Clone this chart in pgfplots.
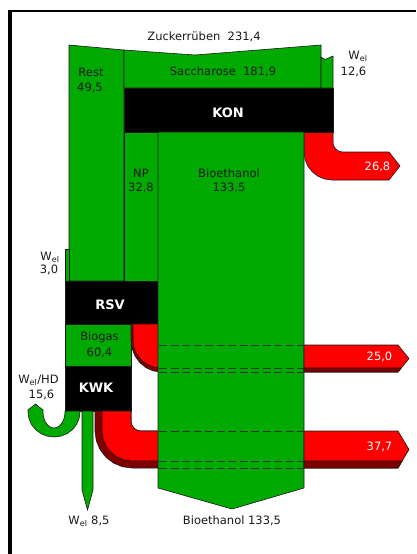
\documentclass[border=0pt]{standalone}
\usepackage{fontspec}
\setmainfont{DejaVu Sans}
\usepackage{pgfplots}
\pgfplotsset{compat=1.18}

\definecolor{sgreen}{RGB}{0,170,0}
\definecolor{sred}{RGB}{255,0,0}
\definecolor{sdark}{RGB}{128,0,0}
\definecolor{edge}{RGB}{25,25,25}

\tikzset{
  flow/.style={draw=edge, line width=0.6pt, line join=miter},
  lab/.style={font=\fontsize{11.5}{13}\selectfont, text=black!90, inner sep=0pt},
  wlab/.style={font=\fontsize{11.5}{13}\selectfont, text=white, inner sep=0pt},
  blab/.style={font=\fontsize{13}{15}\selectfont\bfseries, text=white, inner sep=0pt},
  hid/.style={draw=black!80, line width=0.7pt, dash pattern=on 8pt off 3.5pt},
}

\begin{document}
\begin{tikzpicture}
\begin{axis}[
    scale only axis,
    width=416pt, height=554pt,
    xmin=0, xmax=416, ymin=0, ymax=554,
    y dir=reverse,
    hide axis,
]
% background (fixes the picture size)
\addplot[fill=white, draw=none] coordinates {(0,0) (416,0) (416,554) (0,554)} --cycle;

% input Zuckerrueben: Rest, Saccharose, W_el
\addplot[flow, fill=sgreen] coordinates {(69,45) (124,50) (124,281) (69,281)} --cycle;
\addplot[flow, fill=sgreen] coordinates {(124,50) (195,55) (321,45) (321,88) (124,88)} --cycle;
\addplot[flow, fill=sgreen] coordinates {(321,57) (325,59.5) (333,56) (333,88) (321,88)} --cycle;
\addplot[flow, fill=sgreen] coordinates {(65,249) (69,249) (69,281) (65,281)} --cycle;

% loss 26,8 from KON
\addplot[flow, fill=sred] coordinates {
  (304,132) (333,132) (333,142) (333.34,144.59) (334.34,147) (335.93,149.07)
  (338,150.66) (340.41,151.66) (343,152) (389,152) (400,166) (389,180)
  (332,180) (324.75,179.05) (318,176.25) (312.2,171.8) (307.75,166)
  (304.95,159.25) (304,152)} --cycle;

% KON
\addplot[flow, fill=black] coordinates {(124,88) (333,88) (333,132) (124,132)} --cycle;
% NP
\addplot[flow, fill=sgreen] coordinates {(124,132) (158,132) (158,281) (124,281)} --cycle;
% RSV, Biogas, KWK
\addplot[flow, fill=black] coordinates {(65,281) (158,281) (158,324) (65,324)} --cycle;
\addplot[flow, fill=sgreen] coordinates {(65,324) (131,324) (131,366) (65,366)} --cycle;
\addplot[flow, fill=black] coordinates {(65,366) (131,366) (131,411) (65,411)} --cycle;

% loss 25,0 from RSV (left part)
\addplot[flow, fill=sdark] coordinates {
  (131,324) (170,324) (170,372) (161,372) (153.24,370.91) (146,367.71)
  (139.79,362.63) (135.02,356) (132.02,348.28) (131,340)} --cycle;
\addplot[flow, fill=sred] coordinates {
  (133,324) (170,324) (170,368) (161,368) (153.75,367.05) (147,364.25)
  (141.2,359.8) (136.75,354) (133.95,347.25) (133,340)} --cycle;

% loss 37,7 from KWK (left part)
\addplot[flow, fill=sdark] coordinates {
  (95,411) (131,411) (131,421) (131.34,423.6) (132.34,426) (133.93,428.07)
  (136,429.66) (138.4,430.66) (141,431) (170,431) (170,468) (132,468)
  (122.42,466.74) (113.5,463.04) (105.84,457.16) (99.96,449.5)
  (96.26,440.58) (95,431)} --cycle;
\addplot[flow, fill=sred] coordinates {
  (102,411) (131,411) (131,421) (131.34,423.6) (132.34,426) (133.93,428.07)
  (136,429.66) (138.4,430.66) (141,431) (170,431) (170,461) (132,461)
  (124.24,459.98) (117,456.98) (110.79,452.21) (106.02,446)
  (103.02,438.76) (102,431)} --cycle;

% W_el/HD 15,6 hook
\addplot[flow, fill=sgreen] coordinates {
  (65,411) (80,411) (80,412) (79.11,418.47) (76.52,424.5) (72.38,429.68)
  (67,433.65) (60.73,436.15) (54,437) (47.27,436.15) (41,433.65)
  (35.62,429.68) (31.48,424.5) (28.89,418.47) (28,412) (28,410)
  (35.5,404) (43,410) (43,412) (43.37,416.14) (44.47,420) (46.22,423.31)
  (48.5,425.86) (51.15,427.45) (54,428) (56.85,427.45) (59.5,425.86)
  (61.78,423.31) (63.53,420) (64.63,416.14) (65,412)} --cycle;
% W_el 8,5
\addplot[flow, fill=sgreen] coordinates {(82,411) (93,411) (93,490) (87.5,510) (82,490)} --cycle;

% Bioethanol
\addplot[flow, fill=sgreen] coordinates {(158,132) (304,132) (304,488) (232,509) (158,488)} --cycle;
\addplot[hid] coordinates {(159,345) (303,345)};
\addplot[hid] coordinates {(159,368) (303,368)};
\addplot[hid] coordinates {(159,372) (303,372)};
\addplot[hid] coordinates {(159,431) (303,431)};
\addplot[hid] coordinates {(159,461) (303,461)};
\addplot[hid] coordinates {(159,468) (303,468)};

% loss arrows (right part)
\addplot[flow, fill=sred] coordinates {(304,345) (398,345) (409,358.5) (398,372) (304,372)} --cycle;
\addplot[flow, fill=sdark] coordinates {(304,368) (401.3,368) (398,372) (304,372)} --cycle;
\addplot[flow, fill=sred] coordinates {(304,431) (398,431) (409,449.5) (398,468) (304,468)} --cycle;
\addplot[flow, fill=sdark] coordinates {(304,461) (402.2,461) (398,468) (304,468)} --cycle;

% frame
\addplot[black, line width=4pt] coordinates {(10,554) (10,9.8)};
\addplot[black, line width=2.5pt] coordinates {(8,11) (416,11)};

% labels
\node[lab] at (axis cs:204,37) {Zuckerrüben\ \ 231,4};
\node[lab] at (axis cs:223,72) {Saccharose\ \ 181,9};
\node[lab] at (axis cs:91,72) {Rest};
\node[lab] at (axis cs:90,88) {49,5};
\node[lab] at (axis cs:358,56) {W\textsubscript{el}};
\node[lab] at (axis cs:353.5,72) {12,6};
\node[blab] at (axis cs:228,113) {KON};
\node[lab] at (axis cs:141,173) {NP};
\node[lab] at (axis cs:141,188) {32,8};
\node[lab] at (axis cs:229,173) {Bioethanol};
\node[lab] at (axis cs:229,188) {133,5};
\node[wlab] at (axis cs:377.5,167) {26,8};
\node[lab] at (axis cs:50,257) {W\textsubscript{el}};
\node[lab] at (axis cs:49,270) {3,0};
\node[blab] at (axis cs:110,305) {RSV};
\node[lab] at (axis cs:99.5,337) {Biogas};
\node[lab] at (axis cs:99.5,353) {60,4};
\node[blab] at (axis cs:96,388) {KWK};
\node[lab] at (axis cs:38.5,380) {W\textsubscript{el}/HD};
\node[lab] at (axis cs:41.5,395) {15,6};
\node[wlab] at (axis cs:379.5,357) {25,0};
\node[wlab] at (axis cs:379.5,447) {37,7};
\node[lab] at (axis cs:89,521) {W\textsubscript{el} 8,5};
\node[lab] at (axis cs:232,521) {Bioethanol 133,5};
\end{axis}
\end{tikzpicture}
\end{document}
